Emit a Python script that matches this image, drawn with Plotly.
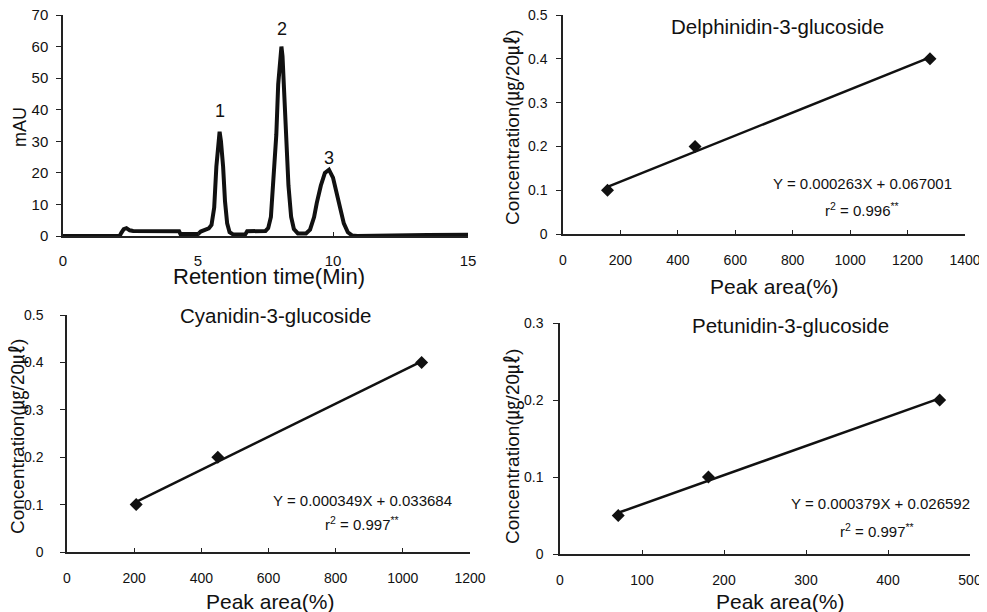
import plotly.graph_objects as go

# The page body has an 8 px margin, so the figure is laid out in reference
# pixel coordinates shifted by that margin.
REF_W, REF_H = 987, 612
OFF = 8
W, H = REF_W - OFF, REF_H - OFF
FONT = "Liberation Sans, Arial, Noto Sans CJK KR, sans-serif"

# ---------------- data ----------------
# Chromatogram (Retention time in min, absorbance mAU)
chrom_time = [0, 1.0, 2.1, 2.16, 2.25, 2.35, 2.47, 2.6, 3.5, 4.3, 4.35, 5.0, 5.1, 5.25,
              5.4, 5.5, 5.6, 5.68, 5.75, 5.8, 5.85, 5.93, 6.0, 6.08, 6.17, 6.3, 6.75,
              6.82, 7.5, 7.6, 7.7, 7.8, 7.9, 7.97, 8.05, 8.09, 8.13, 8.2, 8.27, 8.35,
              8.45, 8.55, 8.7, 9.0, 9.15, 9.3, 9.4, 9.55, 9.7, 9.85, 10.0, 10.15, 10.25,
              10.4, 10.55, 10.7, 10.9, 12.0, 13.5, 15.0]
chrom_mau = [0, 0, 0, 1.0, 2.2, 2.5, 1.8, 1.6, 1.6, 1.5, 0.6, 0.6, 1.4, 2.0,
             2.4, 3.5, 9, 22, 30, 33, 30, 22, 11, 4, 1.2, 0.5, 0.5,
             1.5, 1.6, 2.5, 6, 17, 32, 48, 59, 60, 57, 45, 30, 16,
             6, 2.2, 0.8, 0.8, 2, 6, 10.5, 16, 20, 21, 18.5, 13, 10,
             4, 1.2, 0.2, 0, 0.2, 0.3, 0.4]
peak_labels = ["1", "2", "3"]
peak_label_time = [5.8, 8.1, 9.85]
peak_label_mau = [39.5, 65.5, 24.8]

# Calibration curves
delph_area = [155, 460, 1278]
delph_conc = [0.1, 0.2, 0.4]
cyan_area = [206, 449, 1056]
cyan_conc = [0.1, 0.2, 0.4]
petu_area = [71, 181, 463]
petu_conc = [0.05, 0.1, 0.2]

compound_names = ["Delphinidin-3-glucoside", "Cyanidin-3-glucoside", "Petunidin-3-glucoside"]
slopes = [0.000263, 0.000349, 0.000379]
intercepts = [0.067001, 0.033684, 0.026592]
equations = ["Y = 0.000263X + 0.067001", "Y = 0.000349X + 0.033684", "Y = 0.000379X + 0.026592"]
r2_texts = ["r<sup>2</sup> = 0.996<sup>**</sup>", "r<sup>2</sup> = 0.997<sup>**</sup>",
            "r<sup>2</sup> = 0.997<sup>**</sup>"]

# ---------------- layout helpers ----------------
def px(x):
    return (x - OFF) / W

def py(y):
    return 1 - (y - OFF) / H

fig = go.Figure()

# panel boxes in reference pixels: (left, right, top, bottom)
boxes = {
    "tl": (63, 468, 15, 236),
    "tr": (563, 965, 15, 234),
    "bl": (67, 470, 315, 552),
    "br": (560, 970, 323, 554),
}

axis_common = dict(showline=True, linecolor="#222", linewidth=1.5, showgrid=False,
                   zeroline=False, tickcolor="#222", tickwidth=1.2,
                   ticklabeloverflow="allow")

def add_axes(n, box, xr, yr, xdt, ydt, xstand=12, ystand=6, fs=14):
    l, r, t, b = box
    key = "" if n == 1 else str(n)
    xa = dict(axis_common, domain=[px(l), px(r)], range=xr, dtick=xdt, tick0=0,
              ticks="inside", ticklen=4, anchor="y" + key, ticklabelstandoff=xstand,
              tickfont=dict(family=FONT, size=fs, color="#111"))
    ya = dict(axis_common, domain=[py(b), py(t)], range=yr, dtick=ydt, tick0=0,
              ticks="outside", ticklen=5, anchor="x" + key, ticklabelstandoff=ystand,
              tickfont=dict(family=FONT, size=fs, color="#111"))
    fig.update_layout(**{"xaxis" + key: xa, "yaxis" + key: ya})

add_axes(1, boxes["tl"], [0, 15], [0, 70], 5, 10, fs=15, xstand=10, ystand=5)
add_axes(2, boxes["tr"], [0, 1400], [0, 0.5], 200, 0.1, xstand=12, ystand=6)
add_axes(3, boxes["bl"], [0, 1200], [0, 0.5], 200, 0.1, xstand=12, ystand=14)
add_axes(4, boxes["br"], [0, 500], [0, 0.3], 100, 0.1, xstand=12, ystand=7)

# chromatogram
fig.add_trace(go.Scatter(x=chrom_time, y=chrom_mau, mode="lines",
                         line=dict(color="#111", width=4), xaxis="x", yaxis="y",
                         cliponaxis=False, showlegend=False))
for lab, t, v in zip(peak_labels, peak_label_time, peak_label_mau):
    fig.add_annotation(x=t, y=v, xref="x", yref="y", text=lab, showarrow=False,
                       font=dict(family=FONT, size=18, color="#111"))

# calibration panels
cal = [(delph_area, delph_conc, "x2", "y2"),
       (cyan_area, cyan_conc, "x3", "y3"),
       (petu_area, petu_conc, "x4", "y4")]
for i, (xa, yc, xr, yr) in enumerate(cal):
    xs = [min(xa), max(xa)]
    ys = [slopes[i] * v + intercepts[i] for v in xs]
    fig.add_trace(go.Scatter(x=xs, y=ys, mode="lines", line=dict(color="#111", width=2.5),
                             xaxis=xr, yaxis=yr, showlegend=False))
    fig.add_trace(go.Scatter(x=xa, y=yc, mode="markers",
                             marker=dict(symbol="diamond", size=10, color="#111"),
                             xaxis=xr, yaxis=yr, cliponaxis=False, showlegend=False))

def text_px(x, y, s, size, angle=0):
    fig.add_annotation(x=px(x), y=py(y), xref="paper", yref="paper", text=s,
                       showarrow=False, textangle=angle, xanchor="center", yanchor="middle",
                       font=dict(family=FONT, size=size, color="#111"))

ytitle = "Concentration(㎍/20㎕)"
# axis titles
text_px(20, 127, "mAU", 18, -90)
text_px(269, 276, "Retention time(Min)", 22)
text_px(513, 128, ytitle, 19, -90)
text_px(774, 286, "Peak area(%)", 21)
text_px(18, 437, ytitle, 19, -90)
text_px(270, 601, "Peak area(%)", 21)
text_px(513, 447, ytitle, 19, -90)
text_px(780, 601, "Peak area(%)", 21)

# chart titles
text_px(777, 27, compound_names[0], 20.5)
text_px(275, 315, compound_names[1], 20.5)
text_px(790, 325, compound_names[2], 20.5)

# equations
eq_pos = [((862, 183), (862, 209)), ((362, 500), (362, 523)), ((880, 503), (877, 530))]
for i, (p1, p2) in enumerate(eq_pos):
    text_px(p1[0], p1[1], equations[i], 15)
    text_px(p2[0], p2[1], r2_texts[i], 15)

fig.update_layout(width=W, height=H, margin=dict(l=0, r=0, t=0, b=0, autoexpand=False),
                  paper_bgcolor="white", plot_bgcolor="white", showlegend=False,
                  font=dict(family=FONT, color="#111"))

fig.write_html("out.html")
